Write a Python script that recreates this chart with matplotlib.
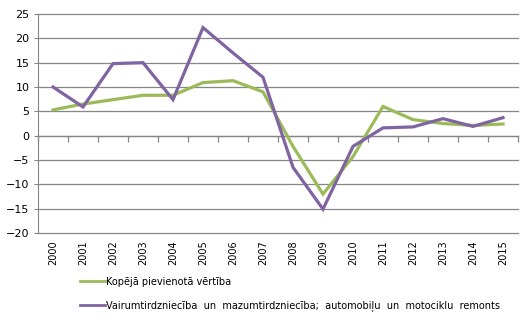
"""
Pievienotās vērtības pārmaiņas (%): kopā un tirdzniecības nozarē, 2000-2015.
"""

import numpy as np
import matplotlib.pyplot as plt
from matplotlib.lines import Line2D

GADI = [str(g) for g in range(2000, 2016)]

KOPEJA = [5.3, 6.5, 7.4, 8.3, 8.3, 10.9, 11.3, 9.0,
          -2.2, -12.0, -4.3, 6.0, 3.3, 2.5, 2.1, 2.4]
TIRDZNIECIBA = [10.0, 5.9, 14.8, 15.0, 7.4, 22.2, 17.0, 12.0,
                -6.5, -15.1, -2.2, 1.6, 1.8, 3.5, 1.9, 3.7]

NOSAUKUMI = [
    "Kopējā pievienotā vērtība",
    "Vairumtirdzniecība  un  mazumtirdzniecība;  automobiļu  un  motociklu  remonts",
]

ZALS = "#9BBB59"
VIOLETS = "#8064A2"
PELEKS = "#868686"

W, H = 528, 320


def main():
    plt.rcParams["font.family"] = ["DejaVu Sans"]
    plt.rcParams["font.size"] = 7

    fig = plt.figure(figsize=(W / 100, H / 100), dpi=100)
    ax = fig.add_axes([38 / W, 1 - 233 / H, 480 / W, 219 / H])

    x = np.arange(len(GADI))
    ax.plot(x, KOPEJA, color=ZALS, lw=2.3, solid_joinstyle="miter")
    ax.plot(x, TIRDZNIECIBA, color=VIOLETS, lw=2.3, solid_joinstyle="miter")

    ymin, ymax = -20, 25
    ax.set_ylim(ymin, ymax)
    ax.set_xlim(-0.5, len(GADI) - 0.5)
    ax.set_yticks(range(ymin, ymax + 1, 5))
    ax.yaxis.grid(True, color=PELEKS, lw=0.9)
    for g in ax.get_ygridlines():
        g.set_clip_on(False)
    ax.set_axisbelow(True)

    for s in ["top", "right", "bottom"]:
        ax.spines[s].set_visible(False)
    ax.spines["left"].set_color(PELEKS)
    ax.tick_params(axis="y", length=3, color=PELEKS, pad=3, labelsize=8)

    ax.set_xticks(x)
    ax.set_xticklabels(GADI, rotation=90, fontsize=7)
    ax.tick_params(axis="x", length=0, pad=5)

    # x ass krustojas ar nulli: iedaļas starp kategorijām
    nulle = (0 - ymin) / (ymax - ymin)
    sec = ax.secondary_xaxis(nulle)
    sec.set_xticks(np.arange(-0.5, len(GADI), 1.0))
    sec.set_xticklabels([])
    sec.tick_params(axis="x", direction="out", length=4, color=PELEKS, width=0.9)
    sec.spines["bottom"].set_color(PELEKS)
    sec.spines["bottom"].set_linewidth(0.9)

    rokturi = [Line2D([], [], color=ZALS, lw=2.0),
               Line2D([], [], color=VIOLETS, lw=2.0)]
    fig.legend(rokturi, NOSAUKUMI, loc="upper left",
               bbox_to_anchor=(71 / W, 1 - 268 / H), frameon=False,
               handlelength=2.6, handletextpad=0.1, labelspacing=1.4,
               fontsize=7)

    fig.savefig("out.png", dpi=100)
    plt.close(fig)


if __name__ == "__main__":
    main()
